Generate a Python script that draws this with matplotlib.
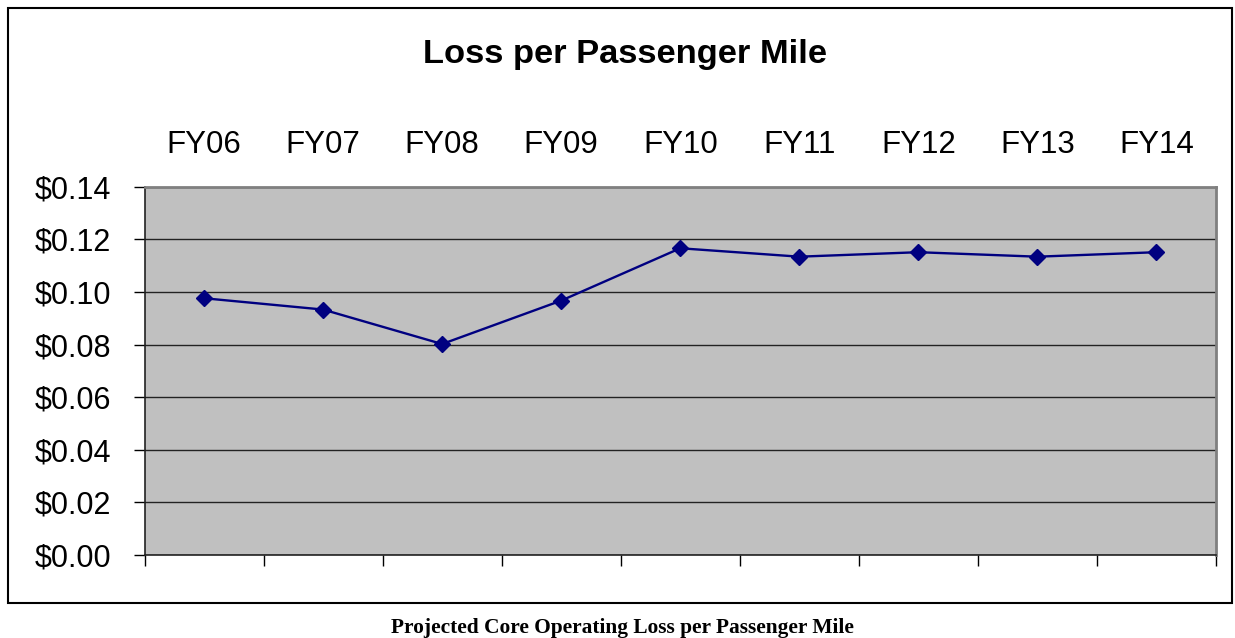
import matplotlib
matplotlib.use("Agg")
import matplotlib.pyplot as plt
from matplotlib.patches import Rectangle
import numpy as np

categories = ["FY06", "FY07", "FY08", "FY09", "FY10", "FY11", "FY12", "FY13", "FY14"]
loss_per_mile = [0.0976, 0.0933, 0.0802, 0.0967, 0.1166, 0.1134, 0.1151, 0.1134, 0.1151]
y_ticks = [0.00, 0.02, 0.04, 0.06, 0.08, 0.10, 0.12, 0.14]
y_labels = ["$0.00", "$0.02", "$0.04", "$0.06", "$0.08", "$0.10", "$0.12", "$0.14"]

W, H = 1235, 638
fig = plt.figure(figsize=(W / 100, H / 100), dpi=100)
plt.rcParams['font.family'] = ['Liberation Sans', 'DejaVu Sans']

# outer chart frame
fig.patches.append(Rectangle((8 / W, 1 - 603 / H), (1232 - 8) / W, (603 - 8) / H,
                             transform=fig.transFigure, fill=False,
                             edgecolor='black', linewidth=1.5))

left, right, top, bottom = 144.5, 1216, 186.7, 555
ax = fig.add_axes([left / W, 1 - bottom / H, (right - left) / W, (bottom - top) / H])
ax.set_facecolor('#C0C0C0')

x = np.arange(len(categories))
ax.plot(x, loss_per_mile, color='#000080', linewidth=1.7, marker='D',
        markersize=8.5, markerfacecolor='#000080', markeredgecolor='#000080', zorder=3)

ax.set_xlim(-0.5, len(categories) - 0.5)
ax.set_ylim(0, 0.14)
ax.set_yticks(y_ticks)
ax.set_yticklabels(y_labels, fontsize=22)
ax.yaxis.grid(True, color='#222222', linewidth=1.0)
ax.set_axisbelow(True)

ax.set_xticks(x)
ax.set_xticklabels(categories, fontsize=22.5)
ax.tick_params(axis='x', which='major', top=False, bottom=False,
               labeltop=True, labelbottom=False, pad=16)
ax.set_xticks(np.arange(-0.5, len(categories), 1.0), minor=True)
ax.tick_params(axis='x', which='minor', bottom=True, length=8, width=1, color='black')
ax.tick_params(axis='y', length=8, width=1, pad=16, color='black')

for s in ['left', 'bottom']:
    ax.spines[s].set_color('#222222')
    ax.spines[s].set_linewidth(1.2)
for s in ['right', 'top']:
    ax.spines[s].set_color('#808080')
    ax.spines[s].set_linewidth(2)

fig.text(625 / W, 1 - 55 / H, "Loss per Passenger Mile", ha='center', va='center',
         fontsize=24.8, fontweight='bold')
fig.text(622 / W, 1 - 628 / H, "Projected Core Operating Loss per Passenger Mile",
         ha='center', va='center', fontsize=15.4, fontweight='bold',
         family=['Liberation Serif', 'DejaVu Serif'])

fig.savefig("out.png", dpi=100)
